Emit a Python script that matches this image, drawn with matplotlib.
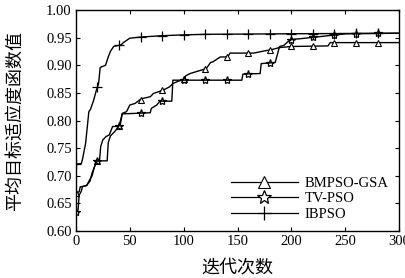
import numpy as np
import matplotlib
matplotlib.use('Agg')
import matplotlib.pyplot as plt
from matplotlib.lines import Line2D

# step-like convergence curves (iteration, fitness)
bmpso_it = [0, 3, 4, 10, 12, 15, 17, 19, 22, 23, 25, 28, 31, 34, 41, 43, 47, 50, 55,
            59, 62, 69, 72, 81, 87, 90, 100, 102, 106, 111, 121, 125, 127, 134, 141,
            143, 165, 175, 181, 189, 200, 234, 236, 300]
bmpso_val = [0.669, 0.671, 0.680, 0.682, 0.690, 0.700, 0.715, 0.725, 0.730, 0.753, 0.765,
             0.771, 0.774, 0.789, 0.790, 0.813, 0.816, 0.828, 0.831, 0.837, 0.840, 0.843,
             0.849, 0.855, 0.861, 0.867, 0.875, 0.881, 0.885, 0.888, 0.894, 0.905, 0.906,
             0.915, 0.915, 0.922, 0.922, 0.926, 0.928, 0.932, 0.934, 0.935, 0.941, 0.941]

tvpso_it = [0, 2, 3, 5, 6, 10, 13, 15, 18, 20, 29, 30, 32, 36, 40, 43, 69, 70, 75, 78,
            89, 90, 154, 155, 171, 172, 185, 189, 193, 197, 201, 208, 251, 300]
tvpso_val = [0.635, 0.638, 0.665, 0.672, 0.680, 0.683, 0.690, 0.705, 0.720, 0.727, 0.727,
             0.760, 0.772, 0.780, 0.790, 0.812, 0.814, 0.822, 0.828, 0.835, 0.835, 0.873,
             0.873, 0.884, 0.885, 0.903, 0.905, 0.934, 0.936, 0.943, 0.947, 0.948, 0.957,
             0.958]

ibpso_it = [0, 5, 6, 9, 12, 13.5, 16.5, 19, 21, 22.5, 27.5, 30, 32, 35, 42, 44, 50, 60,
            80, 100, 120, 200, 300]
ibpso_val = [0.721, 0.722, 0.729, 0.759, 0.816, 0.820, 0.837, 0.855, 0.866, 0.896, 0.900,
             0.915, 0.925, 0.934, 0.937, 0.941, 0.949, 0.951, 0.9535, 0.955, 0.956, 0.957,
             0.958]

mark_it = np.arange(0, 300, 20)

plt.rcParams['font.family'] = ['Liberation Serif', 'DejaVu Serif']
plt.rcParams['font.size'] = 10
cjk = ['Noto Sans CJK SC', 'DejaVu Sans']

fig = plt.figure(figsize=(4.06, 2.78), dpi=100)
ax = fig.add_axes([0.187, 0.169, 0.796, 0.795])

series = [
    ('BMPSO-GSA', bmpso_it, bmpso_val, dict(marker='^', ms=5, mfc='white', mec='black', mew=0.8), 8),
    ('TV-PSO', tvpso_it, tvpso_val, dict(marker='*', ms=6, mfc='none', mec='black', mew=0.9), 10),
    ('IBPSO', ibpso_it, ibpso_val, dict(marker='+', ms=7, mec='black', mew=0.9), 10),
]

handles = []
for name, xs, ys, mk, leg_ms in series:
    ax.plot(xs, ys, color='black', lw=1.0)
    ax.plot(mark_it, np.interp(mark_it, xs, ys), ls='none', **mk)
    leg_mk = dict(mk, ms=leg_ms)
    if mk['marker'] != '+':
        leg_mk['mfc'] = 'white'
    handles.append(Line2D([], [], color='black', lw=0.9, label=name, **leg_mk))

ax.set_xlim(0, 300)
ax.set_ylim(0.6, 1.0)
ax.set_xticks(np.arange(0, 301, 50))
yt = np.arange(0.60, 1.001, 0.05)
ax.set_yticks(yt)
ax.set_yticklabels(['%.2f' % v for v in yt])
ax.tick_params(direction='in', top=True, right=True, length=3, width=0.8,
               labelsize=10.5, pad=3)
for s in ax.spines.values():
    s.set_linewidth(1.0)

ax.set_xlabel('迭代次数', family=cjk, fontsize=13)
ax.set_ylabel('平均目标适应度函数值', family=cjk, fontsize=13)
ax.xaxis.set_label_coords(0.5, -0.125)
ax.yaxis.set_label_coords(-0.16, 0.5)

ax.legend(handles=handles, loc='lower right', bbox_to_anchor=(1.0, 0.0),
          frameon=False, handlelength=4.6, fontsize=10.5, labelspacing=0.15,
          handletextpad=0.5, borderaxespad=0.3)

fig.savefig('out.png', dpi=100)
